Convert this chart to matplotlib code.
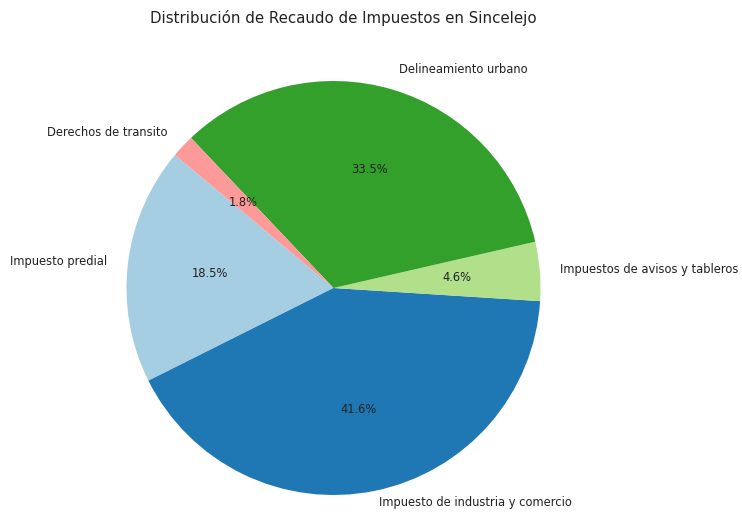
import matplotlib
matplotlib.use("Agg")
import matplotlib.pyplot as plt

categories = ["Impuesto predial", "Impuesto de industria y comercio",
              "Impuestos de avisos y tableros", "Delineamiento urbano",
              "Derechos de transito"]
values = [18.5, 41.6, 4.6, 33.5, 1.8]
colors = ["#a6cee3", "#1f78b4", "#b2df8a", "#33a02c", "#fb9a99"]

W, H = 742, 519
fig = plt.figure(figsize=(W / 100, H / 100), dpi=100)
cx, cy, r = 333.5, 519 - 288, 207
half = 1.25 * r
ax = fig.add_axes([(cx - half) / W, (cy - half) / H, 2 * half / W, 2 * half / H])
wedges, texts, autotexts = ax.pie(values, labels=categories, colors=colors,
                                  autopct="%1.1f%%", startangle=140,
                                  textprops={"fontsize": 8.3, "color": "#222222"})
# bottom label sits a little closer to the pie in the reference
x, y = texts[1].get_position()
texts[1].set_position((x, y * 0.96))
ax.set_xlim(-1.25, 1.25)
ax.set_ylim(-1.25, 1.25)
ax.set_aspect("equal")
ax.axis("off")
fig.text(343 / W, 1 - 18 / H, "Distribución de Recaudo de Impuestos en Sincelejo",
         ha="center", va="center", fontsize=10.8, color="#222222")
fig.savefig("out.png", dpi=100)
